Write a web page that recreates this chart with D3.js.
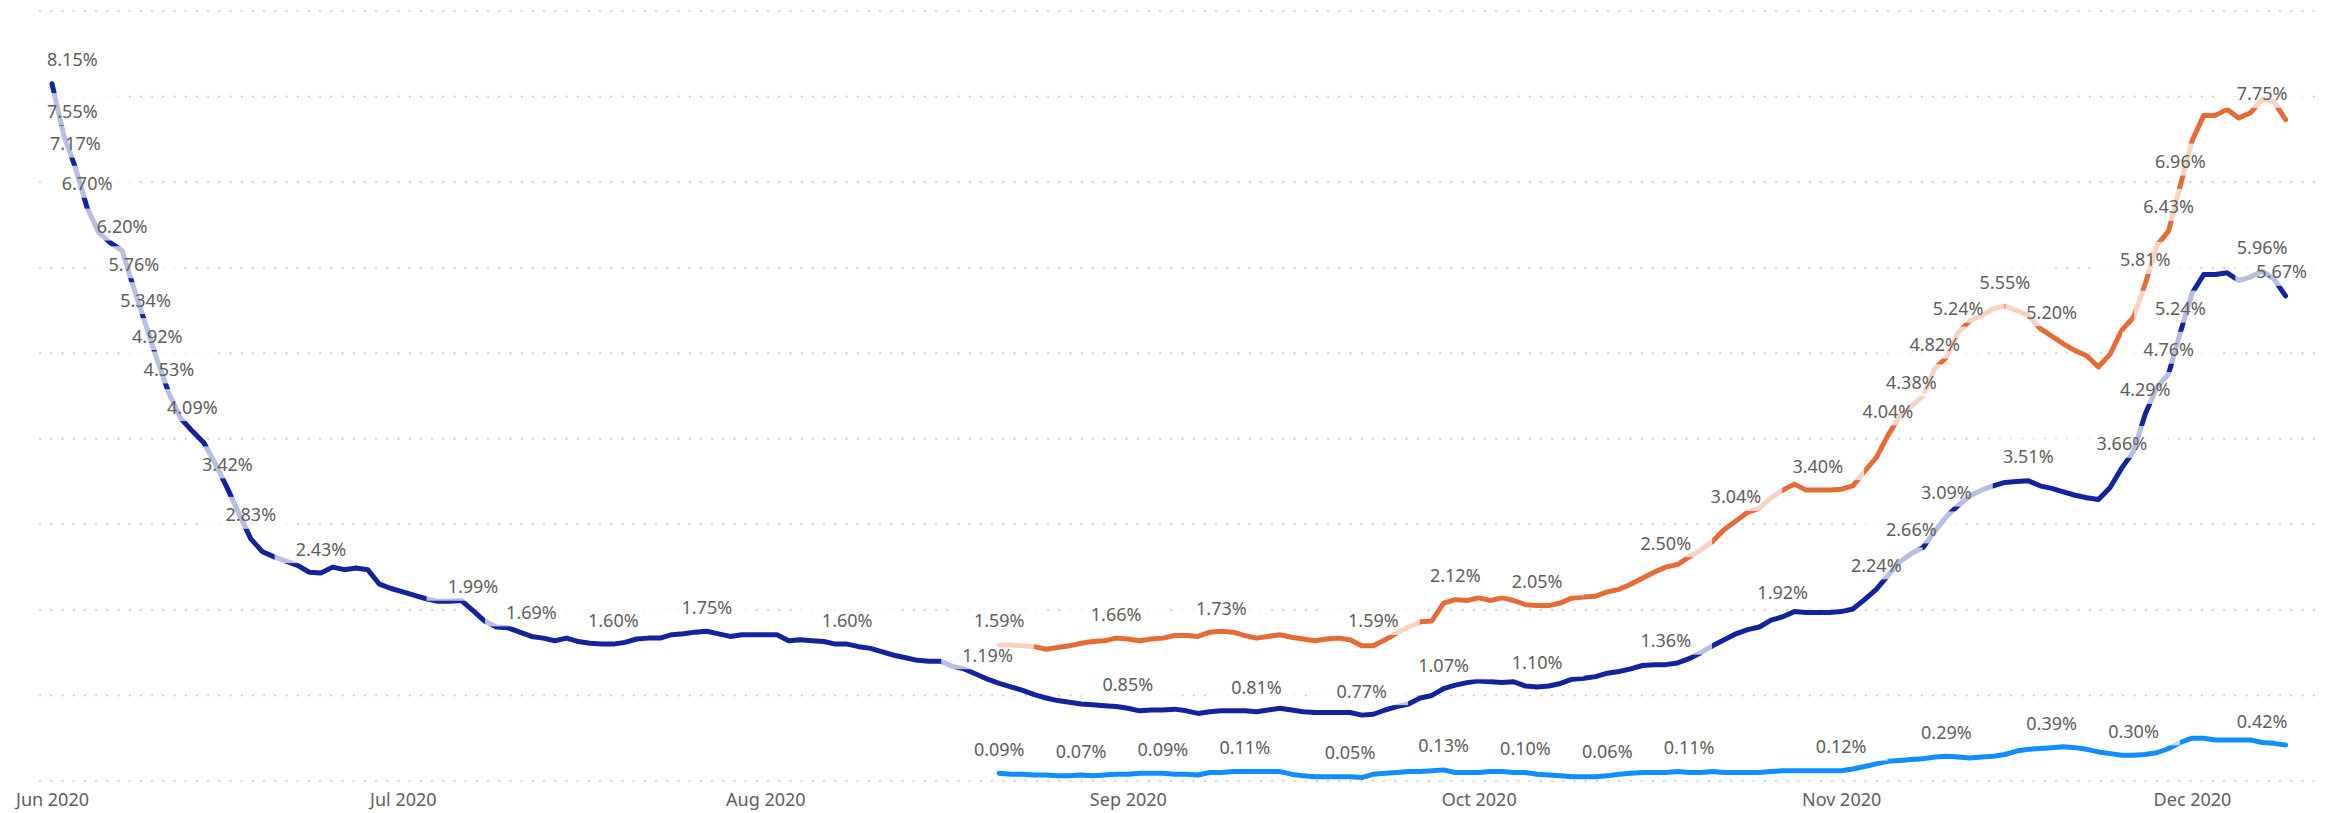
<!DOCTYPE html>
<html>
<head>
<meta charset="utf-8">
<script src="https://cdn.jsdelivr.net/npm/d3@7"></script>
<style>
    body { margin: 0; background: #fff; }
    svg { display: block; font-family: "Segoe UI", "Noto Sans", sans-serif; }
</style>
</head>
<body>
<div id="chart-container"></div>
<script>
// day 0 = 1 Jun 2020
const START_DATE = new Date(2020, 5, 1);
const SECOND_START = 81; // orange / light blue series start on 21 Aug 2020

const navyValues = [
    8.15, 7.55, 7.17, 6.70, 6.41, 6.29, 6.20, 5.76, 5.34, 4.92,
    4.53, 4.24, 4.09, 3.95, 3.70, 3.42, 3.12, 2.83, 2.68, 2.62,
    2.57, 2.52, 2.44, 2.43, 2.50, 2.47, 2.49, 2.47, 2.30, 2.25,
    2.21, 2.17, 2.13, 2.10, 2.10, 2.11, 1.99, 1.87, 1.80, 1.79,
    1.74, 1.69, 1.67, 1.64, 1.67, 1.63, 1.61, 1.60, 1.60, 1.62,
    1.66, 1.67, 1.67, 1.71, 1.72, 1.74, 1.75, 1.72, 1.69, 1.71,
    1.71, 1.71, 1.71, 1.64, 1.65, 1.64, 1.63, 1.60, 1.60, 1.57,
    1.55, 1.51, 1.47, 1.44, 1.41, 1.40, 1.40, 1.34, 1.31, 1.25,
    1.19, 1.14, 1.10, 1.06, 1.01, 0.97, 0.94, 0.92, 0.90, 0.89,
    0.88, 0.87, 0.85, 0.82, 0.83, 0.83, 0.84, 0.82, 0.79, 0.81,
    0.82, 0.82, 0.82, 0.81, 0.83, 0.85, 0.83, 0.81, 0.80, 0.80,
    0.80, 0.80, 0.77, 0.78, 0.83, 0.87, 0.90, 0.97, 1.00, 1.08,
    1.12, 1.15, 1.17, 1.16, 1.15, 1.16, 1.11, 1.10, 1.11, 1.14,
    1.19, 1.20, 1.22, 1.26, 1.28, 1.31, 1.35, 1.36, 1.36, 1.38,
    1.43, 1.50, 1.58, 1.65, 1.72, 1.77, 1.80, 1.88, 1.92, 1.98,
    1.97, 1.97, 1.97, 1.98, 2.01, 2.12, 2.24, 2.40, 2.56, 2.66,
    2.73, 2.92, 3.09, 3.22, 3.33, 3.40, 3.45, 3.49, 3.50, 3.51,
    3.45, 3.42, 3.38, 3.34, 3.31, 3.29, 3.43, 3.66, 3.85, 4.29,
    4.60, 4.76, 5.24, 5.70, 5.92, 5.92, 5.94, 5.85, 5.89, 5.96,
    5.87, 5.67
];

const orangeValues = [
    1.59, 1.59, 1.58, 1.57, 1.54, 1.56, 1.58, 1.61, 1.63, 1.64,
    1.67, 1.66, 1.64, 1.66, 1.67, 1.70, 1.70, 1.69, 1.74, 1.75,
    1.74, 1.70, 1.67, 1.69, 1.71, 1.68, 1.66, 1.64, 1.66, 1.67,
    1.65, 1.58, 1.58, 1.65, 1.73, 1.80, 1.86, 1.87, 2.08, 2.12,
    2.11, 2.14, 2.11, 2.14, 2.11, 2.06, 2.05, 2.05, 2.08, 2.14,
    2.15, 2.16, 2.21, 2.24, 2.30, 2.37, 2.44, 2.50, 2.53, 2.62,
    2.70, 2.80, 2.94, 3.04, 3.14, 3.19, 3.31, 3.40, 3.47, 3.40,
    3.40, 3.40, 3.41, 3.45, 3.62, 3.78, 4.04, 4.26, 4.38, 4.50,
    4.82, 4.95, 5.24, 5.38, 5.44, 5.52, 5.55, 5.50, 5.44, 5.29,
    5.20, 5.11, 5.03, 4.97, 4.84, 4.99, 5.27, 5.42, 5.81, 6.26,
    6.43, 6.96, 7.48, 7.78, 7.78, 7.85, 7.75, 7.81, 7.97, 7.94,
    7.73
];

const lightValues = [
    0.09, 0.08, 0.08, 0.07, 0.07, 0.06, 0.06, 0.07, 0.06, 0.07,
    0.08, 0.08, 0.09, 0.09, 0.09, 0.08, 0.08, 0.07, 0.10, 0.10,
    0.11, 0.11, 0.11, 0.11, 0.11, 0.08, 0.06, 0.05, 0.05, 0.05,
    0.05, 0.04, 0.08, 0.09, 0.10, 0.11, 0.11, 0.12, 0.13, 0.10,
    0.10, 0.10, 0.11, 0.11, 0.10, 0.10, 0.08, 0.07, 0.06, 0.05,
    0.05, 0.05, 0.06, 0.08, 0.09, 0.10, 0.10, 0.10, 0.11, 0.10,
    0.10, 0.11, 0.10, 0.10, 0.10, 0.10, 0.11, 0.12, 0.12, 0.12,
    0.12, 0.12, 0.12, 0.14, 0.17, 0.20, 0.23, 0.24, 0.25, 0.26,
    0.28, 0.29, 0.28, 0.27, 0.28, 0.29, 0.31, 0.35, 0.37, 0.38,
    0.39, 0.40, 0.39, 0.37, 0.34, 0.32, 0.30, 0.30, 0.31, 0.33,
    0.38, 0.45, 0.50, 0.50, 0.48, 0.48, 0.48, 0.48, 0.45, 0.44,
    0.42
];

// [day, shown value]
const navyLabels = [
    [0, 8.15], [1, 7.55], [2, 7.17], [3, 6.70], [6, 6.20], [7, 5.76], [8, 5.34],
    [9, 4.92], [10, 4.53], [12, 4.09], [15, 3.42], [17, 2.83], [23, 2.43], [36, 1.99],
    [41, 1.69], [48, 1.60], [56, 1.75], [68, 1.60], [80, 1.19], [92, 0.85], [103, 0.81],
    [112, 0.77], [119, 1.07], [127, 1.10], [138, 1.36], [148, 1.92], [156, 2.24],
    [159, 2.66], [162, 3.09], [169, 3.51], [177, 3.66], [179, 4.29], [181, 4.76],
    [182, 5.24], [189, 5.96], [191, 5.67]
];
const orangeLabels = [
    [81, 1.59], [91, 1.66], [100, 1.73], [113, 1.59], [120, 2.12], [127, 2.05],
    [138, 2.50], [144, 3.04], [151, 3.40], [157, 4.04], [159, 4.38], [161, 4.82],
    [163, 5.24], [167, 5.55], [171, 5.20], [179, 5.81], [181, 6.43], [182, 6.96],
    [189, 7.75]
];
const lightLabels = [
    [81, 0.09], [88, 0.07], [95, 0.09], [102, 0.11], [111, 0.05], [119, 0.13],
    [126, 0.10], [133, 0.06], [140, 0.11], [153, 0.12], [162, 0.29], [171, 0.39],
    [178, 0.30], [189, 0.42]
];

const yTicks = [0, 1, 2, 3, 4, 5, 6, 7, 8, 9];

const NAVY = "#12239E";
const ORANGE = "#E66C37";
const LIGHT = "#118DFF";
const TEXT = "#605E5C";

const width = 2333;
const height = 813;

const dayDate = d => d3.timeDay.offset(START_DATE, d);

const svg = d3.select("#chart-container")
    .append("svg")
    .attr("width", width)
    .attr("height", height);

const xScale = d3.scaleTime()
    .domain([START_DATE, new Date(2020, 11, 1)])
    .range([52, 2192]);

const yScale = d3.scaleLinear()
    .domain([0, 9])
    .range([781, 11]);

// dotted gridlines
svg.append("g")
    .selectAll("line")
    .data(yTicks)
    .enter()
    .append("line")
    .attr("x1", 40)
    .attr("x2", 2318)
    .attr("y1", d => yScale(d))
    .attr("y2", d => yScale(d))
    .style("stroke", "#C8C6C4")
    .style("stroke-width", 2)
    .style("stroke-linecap", "round")
    .style("stroke-dasharray", "0.1,11.1");

// x axis
const xAxis = svg.append("g")
    .attr("transform", `translate(0,${yScale(0)})`)
    .call(d3.axisBottom(xScale)
        .tickValues(d3.timeMonth.range(START_DATE, new Date(2020, 11, 2)))
        .tickFormat(d3.timeFormat("%b %Y"))
        .tickSize(0)
        .tickPadding(12));
xAxis.select(".domain").remove();
xAxis.selectAll("text")
    .style("font-size", "18px")
    .style("fill", TEXT)
    .style("font-family", "\"Segoe UI\", \"Noto Sans\", sans-serif");

const toPoints = (values, offset) => values.map((v, i) => ({ date: dayDate(offset + i), value: v }));

const line = d3.line()
    .x(d => xScale(d.date))
    .y(d => yScale(d.value));

const series = [
    { values: navyValues, offset: 0, color: NAVY, labels: navyLabels },
    { values: orangeValues, offset: SECOND_START, color: ORANGE, labels: orangeLabels },
    { values: lightValues, offset: SECOND_START, color: LIGHT, labels: lightLabels }
];

series.forEach(s => {
    svg.append("path")
        .datum(toPoints(s.values, s.offset))
        .attr("d", line)
        .style("fill", "none")
        .style("stroke", s.color)
        .style("stroke-width", 5)
        .style("stroke-linejoin", "round")
        .style("stroke-linecap", "round");
});

// data labels sit on a translucent white box, which washes out the line beneath
const boxLayer = svg.append("g");
const textLayer = svg.append("g");

series.forEach(s => {
    s.labels.forEach(([day, v]) => {
        const px = xScale(dayDate(day));
        const cy = yScale(v) - 24;
        const t = textLayer.append("text")
            .attr("y", cy + 6.5)
            .attr("text-anchor", "middle")
            .style("font-size", "18px")
            .style("fill", TEXT)
            .text(d3.format(".2f")(v) + "%");
        const w = t.node().getComputedTextLength();
        let cx = px;
        if (cx - w / 2 < 47) cx = 47 + w / 2;
        if (cx + w / 2 > 2307) cx = 2307 - w / 2;
        t.attr("x", cx);
        boxLayer.append("rect")
            .attr("x", cx - w / 2 - 21)
            .attr("y", cy - 18)
            .attr("width", w + 42)
            .attr("height", 32)
            .style("fill", "#fff")
            .style("opacity", 0.7);
    });
});
</script>
</body>
</html>
